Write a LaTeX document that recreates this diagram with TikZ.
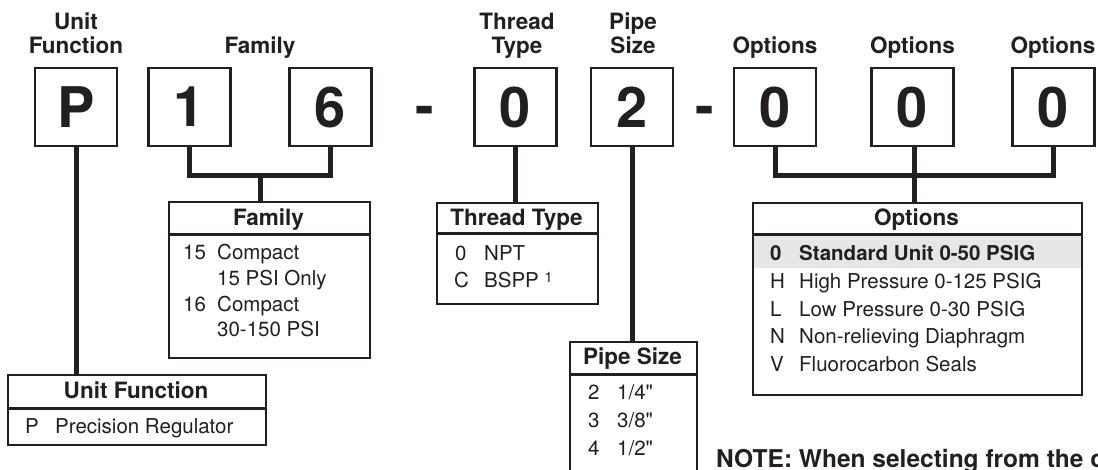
\documentclass[tikz,border=0pt]{standalone}
\usepackage{fontspec}
\setmainfont{TeX Gyre Heros}[Ligatures=TeXOff]
\definecolor{ink}{HTML}{231F20}
\definecolor{hl}{HTML}{E6E6E6}
\begin{document}
\begin{tikzpicture}[x=1pt,y=-1pt,
 every node/.style={inner sep=0pt, text=ink},
 digit/.style={draw=ink, line width=2.2pt, minimum width=82pt, minimum height=78pt, font=\bfseries\fontsize{56}{56}\selectfont},
 dashsym/.style={anchor=base, font=\bfseries\fontsize{56}{56}\selectfont},
 toplabel/.style={anchor=base, font=\bfseries\fontsize{22.5}{24}\selectfont},
 tabbox/.style={draw=ink, line width=2pt, anchor=north west},
 divider/.style={draw=ink, line width=3pt},
 hdr/.style={anchor=base, font=\bfseries\fontsize{22.5}{24}\selectfont},
 rowtxt/.style={anchor=base west, font=\fontsize{20.5}{24}\selectfont},
 rowbold/.style={anchor=base west, font=\bfseries\fontsize{20.5}{24}\selectfont},
 stem/.style={draw=ink, line width=5pt},
 note/.style={anchor=base west, font=\bfseries\fontsize{24.5}{24}\selectfont}
]
\useasboundingbox (0,0) rectangle (1098,469);
\clip (0,0) rectangle (1098,469);

% top labels
\node[toplabel] (lUFa) at (76,29) {Unit};
\node[toplabel] (lUFb) at (76,53) {Function};
\node[toplabel] (lFam) at (260,53) {Family};
\node[toplabel] (lTTa) at (517,29) {Thread};
\node[toplabel] (lTTb) at (517,53) {Type};
\node[toplabel] (lPSa) at (633,29) {Pipe};
\node[toplabel] (lPSb) at (633,53) {Size};
\node[toplabel] (lO1) at (775,53) {Options};
\node[toplabel] (lO2) at (912.5,53) {Options};
\node[toplabel] (lO3) at (1053,53) {Options};

% code boxes
\node[digit] (bP) at (76,107) {P};
\node[digit] (b1) at (189.5,107) {1};
\node[digit] (b6) at (330.5,107) {6};
\node[dashsym] (d1) at (424.5,125) {-};
\node[digit] (b0) at (515.5,107) {0};
\node[digit] (b2) at (632,107) {2};
\node[dashsym] (d2) at (704.5,125) {-};
\node[digit] (bo1) at (775,107) {0};
\node[digit] (bo2) at (912.5,107) {0};
\node[digit] (bo3) at (1053.5,107) {0};

% highlight in options table
\fill[hl] (752,235.5) rectangle (1081,268);

% tables
\node[tabbox, minimum width=258pt, minimum height=70pt] (tUF) at (7,374) {};
\node[tabbox, minimum width=201pt, minimum height=156pt] (tFam) at (168,201) {};
\node[tabbox, minimum width=161pt, minimum height=101pt] (tTT) at (436,202) {};
\node[tabbox, minimum width=127pt, minimum height=160pt] (tPS) at (569,341) {};
\node[tabbox, minimum width=329pt, minimum height=192pt] (tOpt) at (752,202) {};

\draw[divider] ([yshift=-34pt]tUF.north west) -- ([yshift=-34pt]tUF.north east);
\draw[divider] ([yshift=-33pt]tFam.north west) -- ([yshift=-33pt]tFam.north east);
\draw[divider] ([yshift=-31.5pt]tTT.north west) -- ([yshift=-31.5pt]tTT.north east);
\draw[divider] ([yshift=-33pt]tPS.north west) -- ([yshift=-33pt]tPS.north east);
\draw[divider] ([yshift=-32pt]tOpt.north west) -- ([yshift=-32pt]tOpt.north east);

% connectors
\coordinate (famj) at (260,175.5);
\coordinate (optj) at (914,175.5);
\draw[stem] (bP.south) -- (bP.south |- tUF.north);
\draw[stem] (b1.south) -- (b1.south |- famj) -- (b6.south |- famj) -- (b6.south);
\draw[stem] (famj) -- (famj |- tFam.north);
\draw[stem] (b0.south) -- (b0.south |- tTT.north);
\draw[stem] (b2.south) -- (b2.south |- tPS.north);
\draw[stem] (bo1.south) -- (bo1.south |- optj) -- (bo3.south |- optj) -- (bo3.south);
\draw[stem] (bo2.south -| optj) -- (optj |- tOpt.north);

% Unit Function table
\node[hdr] (hUF) at (136,398) {Unit Function};
\node[rowtxt] (uf1k) at (25,433) {P};
\node[rowtxt] (uf1v) at (55,433) {Precision Regulator};

% Family table
\node[hdr] (hFam) at (268.5,225) {Family};
\node[rowtxt] (fa1k) at (183,259) {15};
\node[rowtxt] (fa1v) at (217,259) {Compact};
\node[rowtxt] (fa1w) at (217,285) {15 PSI Only};
\node[rowtxt] (fa2k) at (183,311) {16};
\node[rowtxt] (fa2v) at (217,311) {Compact};
\node[rowtxt] (fa2w) at (217,336) {30-150 PSI};

% Thread Type table
\node[hdr] (hTT) at (516.5,225) {Thread Type};
\node[rowtxt] (tt1k) at (455,260) {0};
\node[rowtxt] (tt1v) at (484,260) {NPT};
\node[rowtxt] (tt2k) at (454,287) {C};
\node[rowtxt] (tt2v) at (484,287) {BSPP \raisebox{5pt}{\fontsize{14.5}{14.5}\selectfont 1}};

% Pipe Size table
\node[hdr] (hPS) at (632.5,364) {Pipe Size};
\node[rowtxt] (ps1k) at (588,399) {2};
\node[rowtxt] (ps1v) at (617,399) {1/4"};
\node[rowtxt] (ps2k) at (588,427) {3};
\node[rowtxt] (ps2v) at (617,427) {3/8"};
\node[rowtxt] (ps3k) at (588,455) {4};
\node[rowtxt] (ps3v) at (617,455) {1/2"};

% Options table
\node[hdr] (hOpt) at (916.5,225) {Options};
\node[rowbold] (op1k) at (770,260) {0};
\node[rowbold] (op1v) at (799,260) {Standard Unit 0-50 PSIG};
\node[rowtxt] (op2k) at (770,288) {H};
\node[rowtxt] (op2v) at (799,288) {High Pressure 0-125 PSIG};
\node[rowtxt] (op3k) at (770,316) {L};
\node[rowtxt] (op3v) at (799,316) {Low Pressure 0-30 PSIG};
\node[rowtxt] (op4k) at (770,343) {N};
\node[rowtxt] (op4v) at (799,343) {Non-relieving Diaphragm};
\node[rowtxt] (op5k) at (770,371) {V};
\node[rowtxt] (op5v) at (799,371) {Fluorocarbon Seals};

% note
\node[note] (nt) at (716,467) {NOTE: When selecting from the op};
\end{tikzpicture}
\end{document}
